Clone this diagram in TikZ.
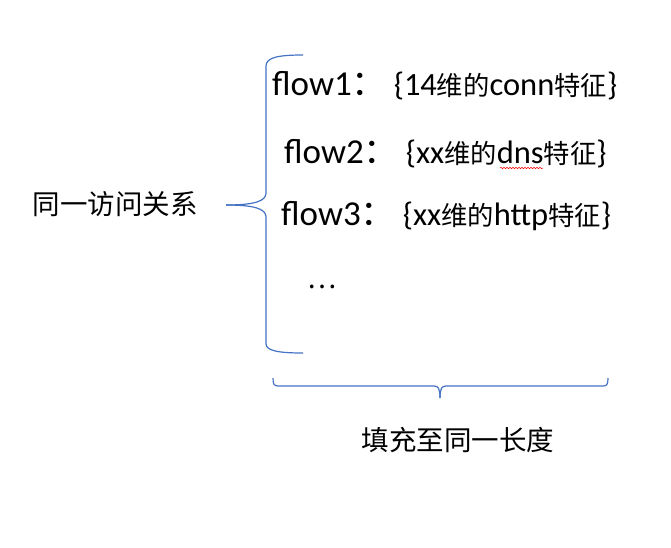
\documentclass[tikz,border=0pt]{standalone}
\usepackage{fontspec}
\setmainfont{Carlito}
\newfontfamily\zh{Noto Sans CJK SC}[Scale=0.81]
\newfontfamily\zhbig{Noto Sans CJK SC}
\usetikzlibrary{decorations.pathmorphing}
\definecolor{officeblue}{HTML}{4472C4}
\newcommand{\flowhead}[1]{{\fontsize{35}{40}\selectfont #1{\zhbig：}\kern7pt}}
\begin{document}
\begin{tikzpicture}[x=1pt, y=-1pt, flow node/.style={anchor=base west,inner sep=0pt,font=\fontsize{32.5}{38}\selectfont},label node/.style={inner sep=0pt,font=\zhbig\fontsize{27.5}{32}\selectfont},brace line/.style={draw=officeblue,line width=1.2pt}]
\useasboundingbox (0,0) rectangle (671,547);
\node [flow node](f1) at (272,95) {\flowhead{flow1}\{14{\zh 维的}conn{\zh 特征}\}};
\node [flow node](f2) at (284,163) {\flowhead{flow2}\{xx{\zh 维的}dns{\zh 特征}\}};
\node [flow node](f3) at (281,225) {\flowhead{flow3}\{xx{\zh 维的}http{\zh 特征}\}};
\node [label node](more) at (322,287) {…};
\node [label node](rel) at (115,204) {同一访问关系};
\node [label node](pad) at (458,440) {填充至同一长度};
% left brace
\coordinate (lt) at (303,55);
\coordinate (lm) at (226,205);
\coordinate (lb) at (303,353);
\draw [brace line] (lt) .. controls (280,55) and (266,57) .. (266,66) -- (266,193) .. controls (266,201) and (255,205) .. (lm);
\draw [brace line] (lm) .. controls (255,205) and (266,209) .. (266,217) -- (266,344) .. controls (266,351) and (280,353) .. (lb);
% bottom brace
\coordinate (bl) at (273,378);
\coordinate (bm) at (440,398);
\coordinate (br) at (608,378);
\draw [brace line] (bl) .. controls (273,384) and (274,386) .. (278,386) -- (434,386) .. controls (438,386) and (440,388) .. (bm);
\draw [brace line] (bm) .. controls (440,388) and (442,386) .. (446,386) -- (603,386) .. controls (607,386) and (608,384) .. (br);
% spell mark
\coordinate (w1) at (500,168);
\coordinate (w2) at (543,168);
\draw [red,line width=0.5pt,decorate,decoration={snake,amplitude=0.8pt,segment length=3pt}] (w1) -- (w2);
\end{tikzpicture}
\end{document}
